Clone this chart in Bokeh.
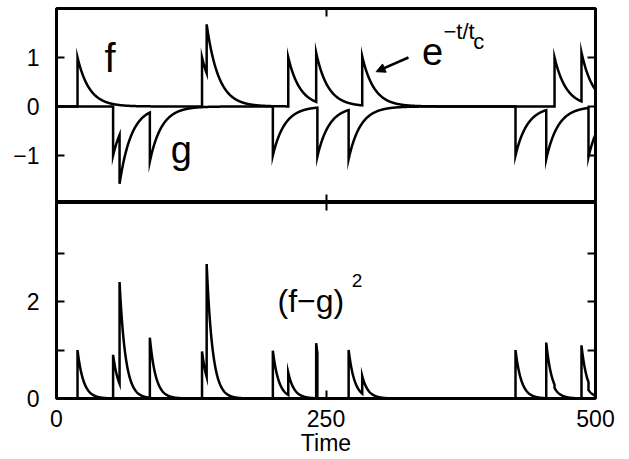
import numpy as np
from bokeh.plotting import figure
from bokeh.models import (Range1d, LinearAxis, FixedTicker, Label, Arrow,
                          NormalHead, ColumnDataSource)
from bokeh.layouts import column
from bokeh.embed import file_html
from bokeh.resources import INLINE

# ---- values ----
f_spike_times = [19.5, 135.0, 139.3, 215.0, 240.9, 283.6, 462.0, 487.0]
g_spike_times = [52.5, 58.5, 86.6, 200.7, 242.0, 271.0, 425.8, 454.3, 493.5]
spike_height = 1.0
tc = 11.0                      # decay time t_c of e^{-t/t_c}
time_limits = [0, 500]
x_ticks = [0, 250, 500]
top_y_ticks = [-1, 0, 1]
top_y_labels = {-1: "\u22121", 0: "0", 1: "1"}
bottom_y_ticks = [0, 1, 2, 3]
bottom_y_labels = {0: "0", 1: "", 2: "2", 3: ""}

FONT = "Liberation Sans"
TICK_FS = "23px"


def filtered(times, t):
    out = np.zeros_like(t)
    for ti in times:
        m = t >= ti
        out[m] += spike_height * np.exp(-(t[m] - ti) / tc)
    return out


edges = []
for ti in f_spike_times + g_spike_times:
    edges += [ti - 1e-6, ti]
t = np.unique(np.concatenate([np.arange(time_limits[0], time_limits[1] + 0.01, 0.25), edges]))
f_tr = filtered(f_spike_times, t)
g_tr = filtered(g_spike_times, t)
src = ColumnDataSource(dict(t=t, f=f_tr, g=-g_tr, d=(f_tr - g_tr) ** 2))


def style_axis(ax, labels):
    ax.axis_line_color = None
    ax.major_tick_in = 8
    ax.major_tick_out = 0
    ax.minor_tick_line_color = None
    ax.major_tick_line_color = "black"
    ax.major_tick_line_width = 2
    ax.major_label_text_font = FONT
    ax.major_label_text_color = "black"
    if labels:
        ax.major_label_text_font_size = TICK_FS
    else:
        ax.major_label_text_font_size = "0px"
        ax.major_label_standoff = 0


def make_fig(yr, top, bottom, fh):
    p = figure(frame_width=539, frame_height=fh,
               x_range=Range1d(*time_limits), y_range=yr,
               output_backend="svg", toolbar_location=None,
               min_border_left=56, min_border_right=34,
               min_border_top=top, min_border_bottom=bottom,
               x_axis_location=None, y_axis_location=None)
    p.grid.visible = False
    p.outline_line_color = "black"
    p.outline_line_width = 3
    p.outline_line_alpha = 1
    p.background_fill_color = "white"
    p.border_fill_color = "white"
    return p


def txt(x, y, s, fs):
    return Label(x=x, y=y, text=s, text_font=FONT, text_font_size=fs,
                 text_color="black", text_baseline="alphabetic")


# ---- top panel ----
p1 = make_fig(Range1d(-1.96, 2.0), 8, 0, 194)
for loc, lab in (("left", True), ("right", False)):
    ax = LinearAxis(ticker=FixedTicker(ticks=top_y_ticks),
                    major_label_overrides=top_y_labels if lab else {k: "" for k in top_y_ticks})
    style_axis(ax, lab)
    if lab:
        ax.major_label_standoff = 17
    p1.add_layout(ax, loc)
for loc in ("above", "below"):
    ax = LinearAxis(ticker=FixedTicker(ticks=x_ticks),
                    major_label_overrides={k: "" for k in x_ticks})
    style_axis(ax, False)
    p1.add_layout(ax, loc)

p1.line("t", "f", source=src, line_color="black", line_width=2.5, line_join="miter")
p1.line("t", "g", source=src, line_color="black", line_width=2.5, line_join="miter")

p1.add_layout(txt(44.5, 0.98, "f", "40px"))
p1.add_layout(txt(106, -0.89, "g", "38px"))
p1.add_layout(txt(339, 1.13, "e", "38px"))
p1.add_layout(txt(359, 1.54, "\u2212t/t", "22px"))
p1.add_layout(txt(386.5, 1.33, "c", "22px"))
p1.add_layout(Arrow(end=NormalHead(size=9, fill_color="black", line_color="black", line_width=1),
                    x_start=326.5, y_start=1.0, x_end=296.5, y_end=0.71,
                    line_color="black", line_width=2.5))

# ---- bottom panel ----
p2 = make_fig(Range1d(0, 4.05), 0, 60, 196)
for loc, lab in (("left", True), ("right", False)):
    ax = LinearAxis(ticker=FixedTicker(ticks=bottom_y_ticks),
                    major_label_overrides=bottom_y_labels if lab else {k: "" for k in bottom_y_ticks})
    style_axis(ax, lab)
    if lab:
        ax.major_label_standoff = 17
    p2.add_layout(ax, loc)
ax = LinearAxis(ticker=FixedTicker(ticks=x_ticks),
                major_label_overrides={k: "" for k in x_ticks})
style_axis(ax, False)
p2.add_layout(ax, "above")
ax = LinearAxis(ticker=FixedTicker(ticks=x_ticks), axis_label="Time")
style_axis(ax, True)
ax.major_label_standoff = 11
ax.axis_label_text_font = FONT
ax.axis_label_text_font_size = TICK_FS
ax.axis_label_text_font_style = "normal"
ax.axis_label_text_color = "black"
ax.axis_label_standoff = 0
p2.add_layout(ax, "below")

p2.line("t", "d", source=src, line_color="black", line_width=2.5, line_join="miter")

p2.add_layout(txt(205, 2.02, "(f\u2212g)", "32px"))
p2.add_layout(txt(274, 2.44, "2", "19px"))

layout = column(p1, p2, spacing=0)
open("out.html", "w").write(file_html(layout, INLINE))
